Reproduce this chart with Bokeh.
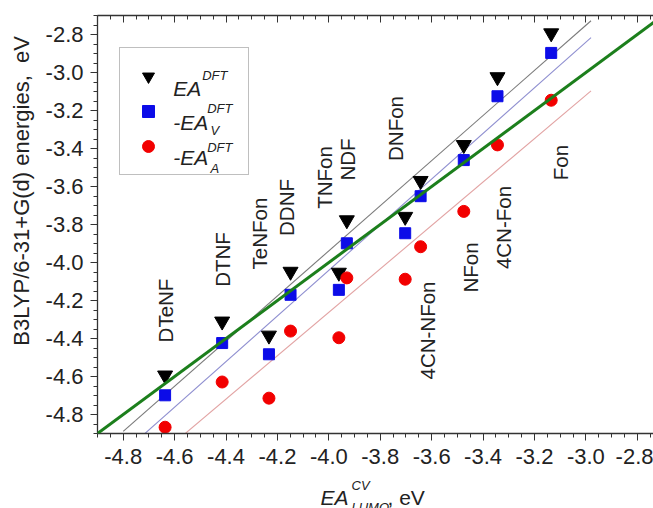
import numpy as np
from bokeh.plotting import figure
from bokeh.layouts import column
from bokeh.models import (Range1d, LinearAxis, Label, Legend, LegendItem,
                          FixedTicker, PrintfTickFormatter, Slope)
from bokeh.core.properties import value
from bokeh.embed import file_html
from bokeh.resources import INLINE

# ---- data ----
compounds = ["DTeNF", "DTNF", "TeNFon", "DDNF", "TNFon", "NDF",
             "4CN-NFon", "DNFon", "NFon", "4CN-Fon", "Fon"]
ea_cv = [-4.637, -4.415, -4.233, -4.149, -3.961, -3.930,
         -3.703, -3.643, -3.475, -3.344, -3.135]
ea_dft = [-4.594, -4.310, -4.384, -4.048, -4.053, -3.777,
          -3.759, -3.570, -3.381, -3.024, -2.793]
ea_v = [-4.699, -4.424, -4.483, -4.170, -4.144, -3.899,
        -3.846, -3.651, -3.461, -3.125, -2.897]
ea_a = [-4.867, -4.629, -4.714, -4.361, -4.396, -4.081,
        -4.088, -3.917, -3.731, -3.381, -3.146]
major_ticks = [-4.8, -4.6, -4.4, -4.2, -4.0, -3.8, -3.6, -3.4, -3.2, -3.0, -2.8]
fit_span = [-4.8, -2.98]

FONT = "Liberation Sans"
TXT = "#222222"
W = 653
H_MAIN = 478
H_STRIP = 30
FL, FB = 97, 433   # frame left / bottom in page px

p = figure(width=W, height=H_MAIN, output_backend="svg", toolbar_location=None,
           x_range=Range1d(-4.9, -2.737), y_range=Range1d(-4.9, -2.7),
           min_border_left=FL, min_border_right=0, min_border_top=15,
           min_border_bottom=45)
p.outline_line_color = None
p.xgrid.visible = False
p.ygrid.visible = False

minor = list(np.round(np.arange(-4.9, -2.69, 0.05), 3))
ticker = FixedTicker(ticks=major_ticks, minor_ticks=minor)

for ax in (p.xaxis[0], p.yaxis[0]):
    ax.ticker = ticker
    ax.formatter = PrintfTickFormatter(format="%.1f")
    ax.axis_line_color = "#333333"
    ax.axis_line_width = 1.3
    ax.major_tick_line_color = "#333333"
    ax.minor_tick_line_color = "#333333"
    ax.major_tick_out = 7
    ax.major_tick_in = 0
    ax.minor_tick_out = 4
    ax.minor_tick_in = 0
    ax.major_label_text_font = FONT
    ax.major_label_text_font_size = "22px"
    ax.major_label_text_color = TXT

p.xaxis[0].major_label_standoff = 8
p.yaxis[0].major_label_standoff = 7

# y axis label; the reference label sits above the frame centre
yax = p.yaxis[0]
yax.axis_label = "\u00a0" * 11 + "B3LYP/6-31+G(d) energies,\u00a0\u00a0eV"
yax.axis_label_text_font = FONT
yax.axis_label_text_font_style = "normal"
yax.axis_label_text_font_size = "22px"
yax.axis_label_text_color = TXT
yax.axis_label_standoff = 9

top = LinearAxis(ticker=ticker, formatter=PrintfTickFormatter(format="%.1f"))
top.axis_line_color = "#333333"
top.axis_line_width = 1.3
top.major_tick_line_color = "#333333"
top.minor_tick_line_color = "#333333"
top.major_tick_in = 7
top.major_tick_out = 0
top.minor_tick_in = 4
top.minor_tick_out = 0
top.major_label_text_font_size = "0px"
top.major_label_standoff = 0
p.add_layout(top, "above")

# y = x reference line
p.add_layout(Slope(gradient=1, y_intercept=0, line_color="#1c7f1c", line_width=3))

# linear fits of each series
x_arr = np.array(ea_cv)
fx = np.array(fit_span)
for series, col in ((ea_dft, "#7a7a7a"), (ea_v, "#8f8fd0"), (ea_a, "#e2a3a3")):
    k, b = np.polyfit(x_arr, np.array(series), 1)
    p.line(fx, k * fx + b, line_color=col, line_width=1.1)

r_tri = p.scatter(ea_cv, ea_dft, marker="inverted_triangle", size=15,
                  fill_color="black", line_color="black")
r_sq = p.scatter(ea_cv, ea_v, marker="square", size=11,
                 fill_color="#0c0ce8", line_color="#0c0ce8")
r_ci = p.scatter(ea_cv, ea_a, marker="circle", size=12,
                 fill_color="#f20000", line_color="#f20000")

legend = Legend(items=[LegendItem(label=value(" "), renderers=[r_tri]),
                       LegendItem(label=value(" "), renderers=[r_sq]),
                       LegendItem(label=value(" "), renderers=[r_ci])],
                location=(22, 258), margin=0, padding=13, spacing=5,
                glyph_width=30, glyph_height=30, label_width=70, label_height=30,
                label_standoff=2, label_text_font_size="10px",
                border_line_color="#808080", border_line_width=1.5,
                background_fill_color="white", background_fill_alpha=0.0)
p.add_layout(legend, "center")


def lab(fig, txt, px, py, size, style="normal", angle=0.0, align="left",
        baseline="alphabetic", screen=True):
    if screen:
        kw = dict(x=px - FL, y=FB - py, x_units="screen", y_units="screen")
    else:
        kw = dict(x=px, y=py, x_units="data", y_units="data")
    fig.add_layout(Label(text=txt, text_font=FONT, text_font_size=size,
                         text_font_style=style, text_color=TXT, angle=angle,
                         text_align=align, text_baseline=baseline,
                         level="overlay", **kw))


# legend texts
lab(p, "EA", 172.7, 88, "21px", "italic")
lab(p, "DFT", 201.7, 75, "13px", "italic")
lab(p, "-EA", 172.7, 121.7, "21px", "italic")
lab(p, "DFT", 206.7, 108, "13px", "italic")
lab(p, "V", 210, 130, "13px", "italic")
lab(p, "-EA", 172.7, 156.7, "21px", "italic")
lab(p, "DFT", 206.7, 147, "13px", "italic")
lab(p, "A", 210, 168, "13px", "italic")

# compound labels (rotated), centres in page px
label_pos = [(165, 310), (222, 259), (259, 233), (286, 207), (324, 177),
             (347, 159), (427, 330), (395, 128), (470, 267), (503, 227),
             (560, 162)]
for name, (cx, cy) in zip(compounds, label_pos):
    lab(p, name, cx, cy, "20.5px", angle=np.pi / 2, align="center",
        baseline="middle")

# strip below the plot for the x axis title (sub/superscripts);
# its frame is aligned with the main frame, data units = page px
s = figure(width=W, height=H_STRIP, output_backend="svg", toolbar_location=None,
           x_axis_type=None, y_axis_type=None,
           x_range=Range1d(FL, W), y_range=Range1d(H_MAIN + H_STRIP, H_MAIN),
           min_border_left=FL, min_border_right=0,
           min_border_top=0, min_border_bottom=0)
s.grid.visible = False
s.outline_line_color = None
lab(s, "EA", 320, 497, "21px", "italic", screen=False)
lab(s, "CV", 351, 485, "13px", "italic", screen=False)
lab(s, "LUMO", 351, 507, "13px", "italic", screen=False)
lab(s, ", eV", 387, 497, "21px", "normal", screen=False)

open("out.html", "w").write(file_html(column(p, s, spacing=0), INLINE))
